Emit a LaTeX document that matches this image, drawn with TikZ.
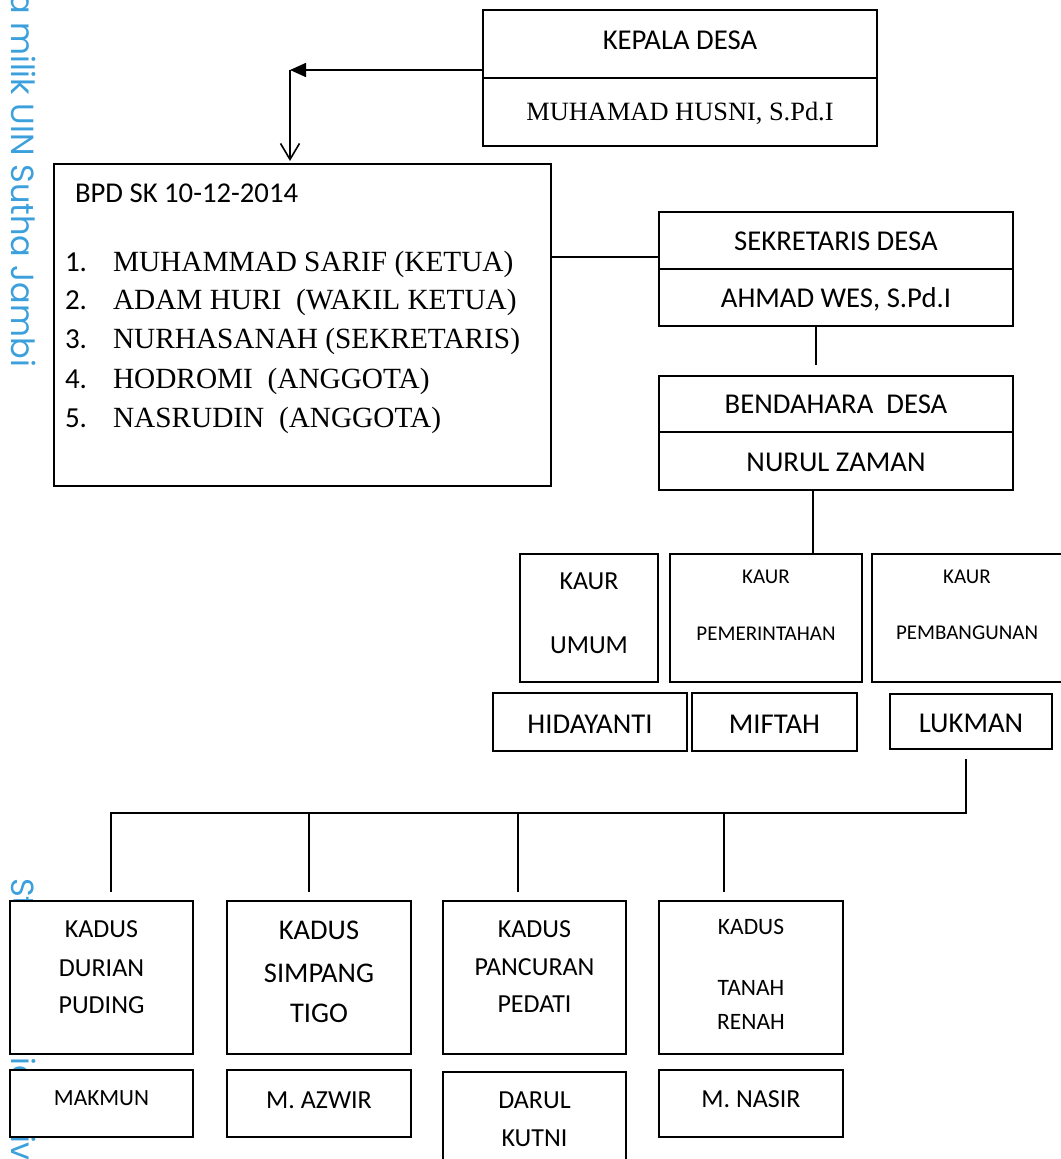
\documentclass[tikz,border=0pt]{standalone}
\usepackage{fontspec}
\setmainfont{Carlito}
\newfontfamily\serifr{Liberation Serif}
\newfontfamily\wmfont{Poppins}
\usetikzlibrary{arrows.meta,fit}
\definecolor{wmblue}{RGB}{60,160,220}
\tikzset{
  box/.style={draw=black, fill=white, line width=1.7pt, inner sep=0pt, outer sep=0pt, rectangle},
  conn/.style={draw=black, line width=1.6pt},
  lbl/.style={anchor=base, inner sep=0pt, outer sep=0pt},
  fmain/.style={lbl, font=\fontsize{28.7}{34}\selectfont},
  fkadus/.style={lbl, font=\fontsize{26}{31}\selectfont},
  fsimp/.style={lbl, font=\fontsize{28.5}{34}\selectfont},
  ftanah/.style={lbl, font=\fontsize{23.5}{28}\selectfont},
  fsmall/.style={lbl, font=\fontsize{21}{25}\selectfont},
  fmak/.style={lbl, font=\fontsize{23.2}{28}\selectfont},
  fserif/.style={lbl, font=\serifr\fontsize{26.4}{31}\selectfont},
  flist/.style={lbl, anchor=base west, font=\serifr\fontsize{29.3}{35}\selectfont},
  fnum/.style={lbl, anchor=base west, font=\fontsize{29}{35}\selectfont},
  wmk/.style={inner sep=0pt, outer sep=0pt, text=wmblue, rotate=-90, font=\wmfont\fontsize{32}{38}\selectfont}
}
\begin{document}
\begin{tikzpicture}[x=1pt,y=-1pt]
\useasboundingbox (0,0) rectangle (1060,1159);
% watermarks
\node[wmk, anchor=base east] (wma) at (12,367) {Hak cipta milik UIN Sutha Jambi};
\node[wmk, anchor=base west] (wmb) at (12,878) {State Islamic University of Sulthan Thaha Saifuddin Jambi};
% boxes
\node[box, fit={(483,10) (877,78)}] (kepT) {};
\node[box, fit={(483,78) (877,146)}] (kepB) {};
\node[box, fit={(54,164) (551,486)}] (bpd) {};
\node[box, fit={(659,212) (1013,269)}] (sekT) {};
\node[box, fit={(659,269) (1013,326)}] (sekB) {};
\node[box, fit={(659,376) (1013,432)}] (benT) {};
\node[box, fit={(659,432) (1013,490)}] (benB) {};
\node[box, fit={(520,554) (658,682)}] (kaur1) {};
\node[box, fit={(670,554) (862,682)}] (kaur2) {};
\node[box, fit={(872,554) (1063,682)}] (kaur3) {};
\node[box, fit={(493,693) (687,751)}] (hid) {};
\node[box, fit={(692,693) (857,751)}] (mif) {};
\node[box, fit={(890,694) (1052,749)}] (luk) {};
\node[box, fit={(10,901) (193,1054)}] (kd1) {};
\node[box, fit={(227,901) (411,1054)}] (kd2) {};
\node[box, fit={(443,901) (626,1054)}] (kd3) {};
\node[box, fit={(659,901) (843,1054)}] (kd4) {};
\node[box, fit={(10,1070) (193,1137)}] (nm1) {};
\node[box, fit={(227,1070) (411,1137)}] (nm2) {};
\node[box, fit={(443,1072) (626,1185)}] (nm3) {};
\node[box, fit={(659,1070) (843,1137)}] (nm4) {};
% texts
\node[fmain] (tkep) at (680,49) {KEPALA DESA};
\node[fserif] (tkepn) at (680,120) {MUHAMAD HUSNI, S.Pd.I};
\node[fmain, anchor=base west] (tbpd) at (75,202) {BPD SK 10-12-2014};
\node[fnum] (n1) at (65,271) {1.};
\node[fnum] (n2) at (65,309) {2.};
\node[fnum] (n3) at (65,348) {3.};
\node[fnum] (n4) at (65,388) {4.};
\node[fnum] (n5) at (65,427) {5.};
\node[flist] (l1) at (113,271) {MUHAMMAD SARIF (KETUA)};
\node[flist] (l2) at (113,309) {ADAM HURI\ \ (WAKIL KETUA)};
\node[flist] (l3) at (113,348) {NURHASANAH (SEKRETARIS)};
\node[flist] (l4) at (113,388) {HODROMI\ \ (ANGGOTA)};
\node[flist] (l5) at (113,427) {NASRUDIN\ \ (ANGGOTA)};
\node[fmain] (tsek) at (836,250) {SEKRETARIS DESA};
\node[fmain] (tsekn) at (836,307) {AHMAD WES, S.Pd.I};
\node[fmain] (tben) at (836,413) {BENDAHARA\ \ DESA};
\node[fmain] (tbenn) at (836,471) {NURUL ZAMAN};
\node[fkadus] (k1a) at (589,589) {KAUR};
\node[fkadus] (k1b) at (589,653) {UMUM};
\node[fsmall] (k2a) at (766,583) {KAUR};
\node[fsmall] (k2b) at (766,640) {PEMERINTAHAN};
\node[fsmall] (k3a) at (967,583) {KAUR};
\node[fsmall] (k3b) at (967,639) {PEMBANGUNAN};
\node[fmain] (thid) at (590,733) {HIDAYANTI};
\node[fmain] (tmif) at (774.5,733) {MIFTAH};
\node[fmain] (tluk) at (971,732) {LUKMAN};
\node[fkadus] (d1a) at (101.5,937) {KADUS};
\node[fkadus] (d1b) at (101.5,976) {DURIAN};
\node[fkadus] (d1c) at (101.5,1013) {PUDING};
\node[fsimp] (d2a) at (319,939) {KADUS};
\node[fsimp] (d2b) at (319,982) {SIMPANG};
\node[fsimp] (d2c) at (319,1022) {TIGO};
\node[fkadus] (d3a) at (534.5,937) {KADUS};
\node[fkadus] (d3b) at (534.5,975) {PANCURAN};
\node[fkadus] (d3c) at (534.5,1012) {PEDATI};
\node[ftanah] (d4a) at (751,934) {KADUS};
\node[ftanah] (d4b) at (751,995) {TANAH};
\node[ftanah] (d4c) at (751,1029) {RENAH};
\node[fmak] (m1) at (101.5,1105) {MAKMUN};
\node[fkadus] (m2) at (319,1108) {M. AZWIR};
\node[fkadus] (m3a) at (534.5,1108) {DARUL};
\node[fkadus] (m3b) at (534.5,1146) {KUTNI};
\node[fkadus] (m4) at (751,1107) {M. NASIR};
% connectors
\coordinate (elb) at (290,70);
\draw[conn, -{Triangle[length=16pt,width=14pt]}] (kepT.west |- elb) -- (elb);
\draw[conn, -{Straight Barb[length=16pt,width=19pt,line width=1.6pt]}, shorten >=3pt] (elb) -- (bpd.north -| elb);
\coordinate (bs) at (0,257);
\draw[conn] (bpd.east |- bs) -- (sekT.west |- bs);
\coordinate (sb) at (816,0);
\draw[conn, shorten >=11pt] (sekB.south -| sb) -- (benT.north -| sb);
\coordinate (bk) at (813,0);
\draw[conn] (benB.south -| bk) -- (kaur2.north -| bk);
\coordinate (hr) at (966,813);
\coordinate (hl) at (111,813);
\coordinate (xb) at (309,0);
\coordinate (xc) at (518,0);
\coordinate (xd) at (724,0);
\draw[conn, shorten <=10pt, shorten >=9pt] (luk.south -| hr) -- (hr) -- (hl) -- (kd1.north -| hl);
\draw[conn, shorten >=9pt] (xb |- hl) -- (kd2.north -| xb);
\draw[conn, shorten >=9pt] (xc |- hl) -- (kd3.north -| xc);
\draw[conn, shorten >=9pt] (xd |- hl) -- (kd4.north -| xd);
\end{tikzpicture}
\end{document}
